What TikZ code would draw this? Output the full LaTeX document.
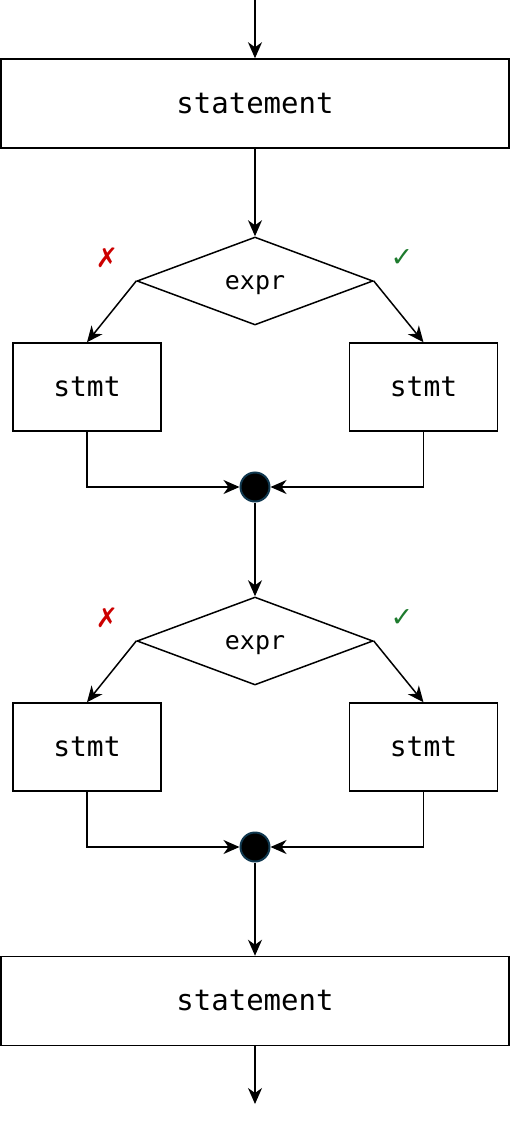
\documentclass[tikz,border=0pt]{standalone}
\usepackage{fontspec}
\setmonofont{DejaVu Sans Mono}
\newfontfamily\symfont{DejaVu Sans}
\usetikzlibrary{shapes.geometric,arrows.meta}
\definecolor{crossred}{HTML}{CC0000}
\definecolor{checkgreen}{HTML}{1E7B2E}
\definecolor{dotblue}{HTML}{10384F}
\tikzset{
  arr/.style={-{Stealth[length=16pt,width=14pt,inset=5pt]}},
  bigbox/.style={draw,rectangle,minimum width=508pt,minimum height=89pt,inner sep=0pt,font=\fontsize{29}{33}\selectfont\ttfamily,text height=19.8pt,text depth=0pt},
  stmtbox/.style={draw,rectangle,minimum width=148pt,minimum height=88pt,inner sep=0pt,font=\fontsize{28}{32}\selectfont\ttfamily,text height=19.3pt,text depth=0pt},
  cond/.style={draw,diamond,aspect=2.68,minimum width=236pt,minimum height=88pt,inner sep=0pt,font=\fontsize{25}{30}\selectfont\ttfamily,text height=17.7pt,text depth=0pt},
  joint/.style={draw=dotblue,fill=black,circle,minimum size=29pt,inner sep=0pt,line width=2pt},
  nomark/.style={text=crossred,font=\fontsize{27}{30}\selectfont\symfont},
  yesmark/.style={text=checkgreen,font=\fontsize{27}{30}\selectfont\symfont},
}
\begin{document}
\begin{tikzpicture}[x=1pt,y=-1pt,line width=1.5pt]
\useasboundingbox (0,0) rectangle (510,1126);
\coordinate (in) at (255,0);
\node[bigbox] (s1) at (255,103.5) {statement};
\node[cond] (c1) at (255,281) {expr};
\node[nomark] (n1) at (107,258) {✗};
\node[yesmark] (y1) at (402,258) {✓};
\node[stmtbox] (l1) at (87,387) {stmt};
\node[stmtbox] (r1) at (423.5,387) {stmt};
\node[joint] (j1) at (255,487) {};
\node[cond] (c2) at (255,641) {expr};
\node[nomark] (n2) at (107,618) {✗};
\node[yesmark] (y2) at (402,618) {✓};
\node[stmtbox] (l2) at (87,747) {stmt};
\node[stmtbox] (r2) at (423.5,747) {stmt};
\node[joint] (j2) at (255,847) {};
\node[bigbox] (s2) at (255,1001) {statement};
\coordinate (out) at (255,1104);

\draw[arr] (in) -- (s1.north);
\draw[arr] (s1.south) -- (c1.north);
\draw[arr] (c1.west) -- (l1.north);
\draw[arr] (c1.east) -- (r1.north);
\draw[arr] (l1.south) |- (j1.west);
\draw[arr] (r1.south) |- (j1.east);
\draw[arr] (j1.south) -- (c2.north);
\draw[arr] (c2.west) -- (l2.north);
\draw[arr] (c2.east) -- (r2.north);
\draw[arr] (l2.south) |- (j2.west);
\draw[arr] (r2.south) |- (j2.east);
\draw[arr] (j2.south) -- (s2.north);
\draw[arr] (s2.south) -- (out);
\end{tikzpicture}
\end{document}
